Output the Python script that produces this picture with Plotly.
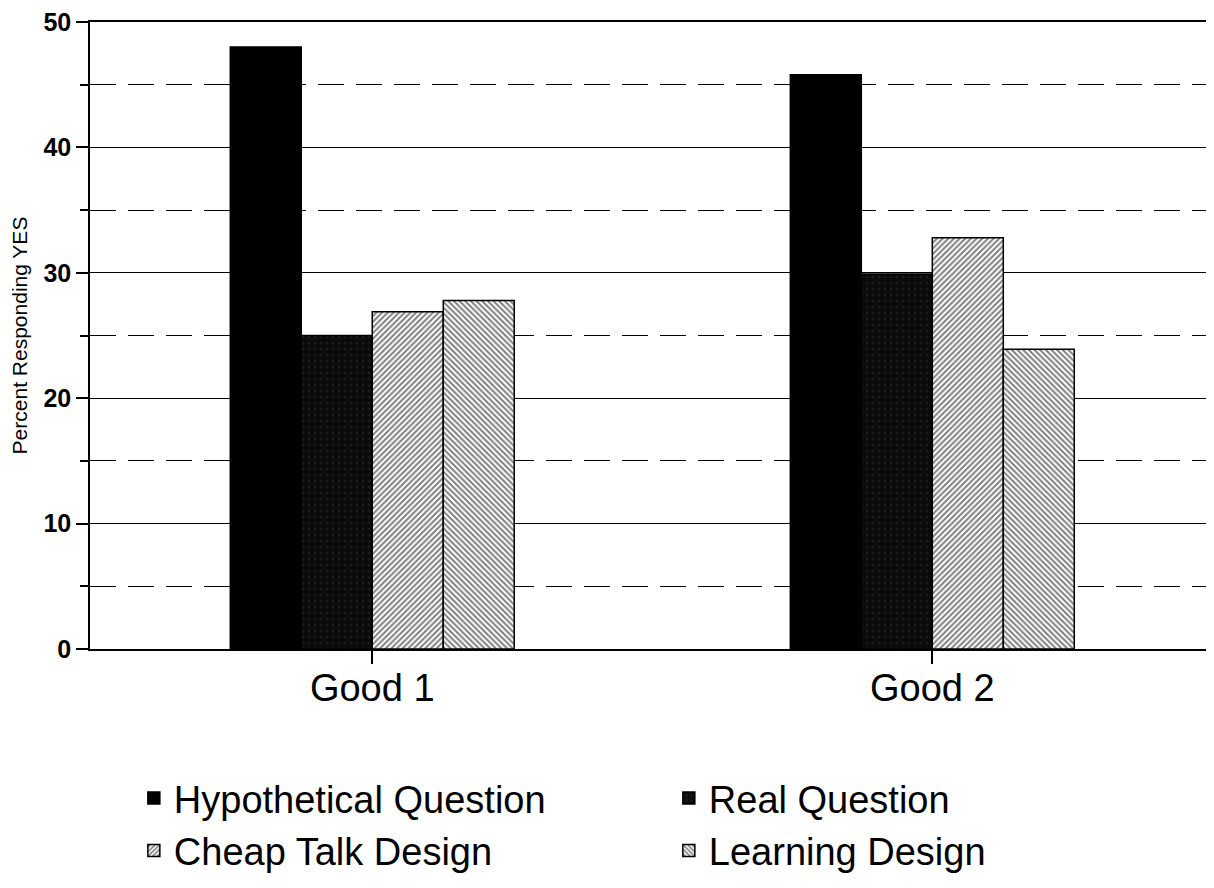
import plotly.graph_objects as go

categories = ["Good 1", "Good 2"]
series_names = ["Hypothetical Question", "Real Question", "Cheap Talk Design", "Learning Design"]
hypothetical = [48.0, 45.8]
real = [25.0, 29.9]
cheap_talk = [26.9, 32.8]
learning = [27.8, 23.9]
y_ticks = [0, 10, 20, 30, 40, 50]

FONT = "Liberation Sans, Arial, Helvetica, sans-serif"

fig = go.Figure()
fig.add_trace(go.Bar(x=categories, y=hypothetical, name=series_names[0],
                     marker=dict(color="#000000", line=dict(color="#000000", width=1.5))))
fig.add_trace(go.Bar(x=categories, y=real, name=series_names[1],
                     marker=dict(color="#0d0d0d", line=dict(color="#000000", width=1.5),
                                 pattern=dict(shape=".", fgcolor="#2a2a2a", bgcolor="#0a0a0a",
                                              size=6, solidity=0.2))))
fig.add_trace(go.Bar(x=categories, y=cheap_talk, name=series_names[2],
                     marker=dict(color="#ffffff", line=dict(color="#000000", width=1.5),
                                 pattern=dict(shape="/", fgcolor="#000000", bgcolor="#ffffff",
                                              size=4, solidity=0.5))))
fig.add_trace(go.Bar(x=categories, y=learning, name=series_names[3],
                     marker=dict(color="#ffffff", line=dict(color="#000000", width=1.5),
                                 pattern=dict(shape="\\", fgcolor="#000000", bgcolor="#ffffff",
                                              size=4, solidity=0.5))))

fig.update_layout(
    width=1206, height=880,
    margin=dict(l=82, r=0, t=12, b=239),
    paper_bgcolor="white", plot_bgcolor="white",
    barmode="group", bargap=0.493, bargroupgap=0,
    font=dict(family=FONT, color="black"),
    showlegend=True,
    legend=dict(
        orientation="h", x=0.039, xanchor="left", y=-0.188, yanchor="top",
        font=dict(family=FONT, size=38, color="black"),
        entrywidth=490, entrywidthmode="pixels",
        itemwidth=30, bgcolor="rgba(0,0,0,0)",
        traceorder="normal",
    ),
)

fig.update_xaxes(
    range=[-0.504, 1.503],
    showline=True, linecolor="black", linewidth=1.5, mirror=True,
    ticks="outside", ticklen=13, tickwidth=1.5, tickcolor="black",
    tickfont=dict(family=FONT, size=38, color="black"),
    ticklabelstandoff=-8,
    showgrid=False, zeroline=False,
)

fig.update_yaxes(
    range=[0, 50], tickvals=y_ticks,
    showline=True, linecolor="black", linewidth=1.5,
    ticks="outside", ticklen=12, tickwidth=1.5, tickcolor="black",
    tickfont=dict(family=FONT, size=25, color="black", weight="bold"),
    ticklabeloverflow="allow",
    showgrid=True, gridcolor="black", gridwidth=1.2,
    zeroline=False,
    minor=dict(dtick=5, showgrid=True, gridcolor="black", gridwidth=1.2,
               griddash="26px,12px", ticks="outside", ticklen=8, tickcolor="black"),
    title=dict(text="Percent Responding YES", font=dict(family=FONT, size=21, color="black"),
               standoff=10),
)

fig.write_html("out.html")
